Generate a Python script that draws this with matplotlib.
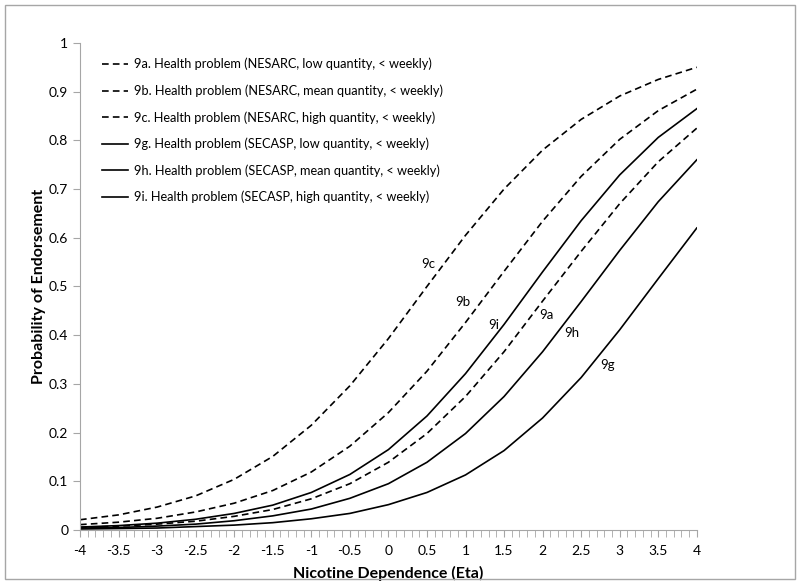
import numpy as np
import matplotlib
matplotlib.use("Agg")
import matplotlib.pyplot as plt
from matplotlib.ticker import MultipleLocator, FuncFormatter
from matplotlib.patches import Rectangle

plt.rcParams['font.family'] = ['Lato', 'DejaVu Sans']

#%% values (eta every 0.5)

eta = [-4, -3.5, -3, -2.5, -2, -1.5, -1, -0.5, 0, 0.5, 1, 1.5, 2, 2.5, 3, 3.5, 4]

p_9a = [0.005, 0.008, 0.012, 0.018, 0.028, 0.042, 0.064, 0.095, 0.139, 0.198, 0.274,
        0.366, 0.470, 0.572, 0.670, 0.756, 0.825]
p_9b = [0.011, 0.016, 0.024, 0.037, 0.055, 0.081, 0.119, 0.172, 0.241, 0.326, 0.426,
        0.531, 0.634, 0.726, 0.802, 0.861, 0.905]
p_9c = [0.021, 0.031, 0.047, 0.070, 0.104, 0.151, 0.215, 0.296, 0.393, 0.500, 0.605,
        0.700, 0.780, 0.843, 0.891, 0.925, 0.950]
p_9g = [0.002, 0.003, 0.004, 0.007, 0.010, 0.015, 0.023, 0.034, 0.052, 0.077, 0.113,
        0.163, 0.230, 0.313, 0.411, 0.516, 0.620]
p_9h = [0.004, 0.005, 0.008, 0.012, 0.019, 0.029, 0.043, 0.065, 0.095, 0.139, 0.198,
        0.274, 0.366, 0.469, 0.574, 0.674, 0.760]
p_9i = [0.006, 0.009, 0.014, 0.022, 0.034, 0.051, 0.077, 0.114, 0.165, 0.234, 0.321,
        0.422, 0.530, 0.635, 0.729, 0.806, 0.865]

legend_names = ["9a. Health problem (NESARC, low quantity, < weekly)",
                "9b. Health problem (NESARC, mean quantity, < weekly)",
                "9c. Health problem (NESARC, high quantity, < weekly)",
                "9g. Health problem (SECASP, low quantity, < weekly)",
                "9h. Health problem (SECASP, mean quantity, < weekly)",
                "9i. Health problem (SECASP, high quantity, < weekly)"]

short_names = ["9c", "9b", "9i", "9a", "9h", "9g"]
label_x = [0.52, 0.97, 1.36, 2.05, 2.38, 2.84]
label_y = [0.547, 0.469, 0.421, 0.441, 0.405, 0.338]

#%% plot

fig = plt.figure(figsize=(8, 5.84), dpi=100)
ax = fig.add_axes([0.1, 0.0925, 0.771, 0.834])

dashed = dict(color="black", lw=1.2, linestyle=(0, (4, 2.5)))
solid = dict(color="black", lw=1.2)

series = [p_9a, p_9b, p_9c, p_9g, p_9h, p_9i]
for i in range(len(series)):
    if i < 3:
        ax.plot(eta, series[i], label=legend_names[i], **dashed)
    else:
        ax.plot(eta, series[i], label=legend_names[i], **solid)

for i in range(len(short_names)):
    ax.text(label_x[i], label_y[i], short_names[i], fontsize=9.5, ha="center", va="center")

ax.set_xlim(-4, 4)
ax.set_ylim(0, 1)
ax.xaxis.set_major_locator(MultipleLocator(0.5))
ax.xaxis.set_minor_locator(MultipleLocator(0.1))
ax.yaxis.set_major_locator(MultipleLocator(0.1))
ax.xaxis.set_major_formatter(FuncFormatter(lambda v, pos: "%g" % round(v, 2)))
ax.yaxis.set_major_formatter(FuncFormatter(lambda v, pos: "%g" % round(v, 2)))

for s in ["top", "right"]:
    ax.spines[s].set_visible(False)
for s in ["left", "bottom"]:
    ax.spines[s].set_color("#a6a6a6")
ax.tick_params(axis="both", which="both", color="#a6a6a6", direction="out", length=5,
               labelsize=10, labelcolor="black")
ax.tick_params(axis="x", pad=6)

ax.set_xlabel("Nicotine Dependence (Eta)", fontsize=11.5, fontweight="bold", labelpad=6)
ax.set_ylabel("Probability of Endorsement", fontsize=11.5, fontweight="bold", labelpad=2)

ax.legend(loc="upper left", bbox_to_anchor=(0.017, 0.993), frameon=False, fontsize=9.2,
          handlelength=2.0, handletextpad=0.5, labelspacing=1.1)

# grey border round the whole chart
fig.patches.append(Rectangle((0.006, 0.008), 0.988, 0.984, transform=fig.transFigure,
                             fill=False, edgecolor="#a6a6a6", lw=1))

fig.savefig("out.png", dpi=100)
